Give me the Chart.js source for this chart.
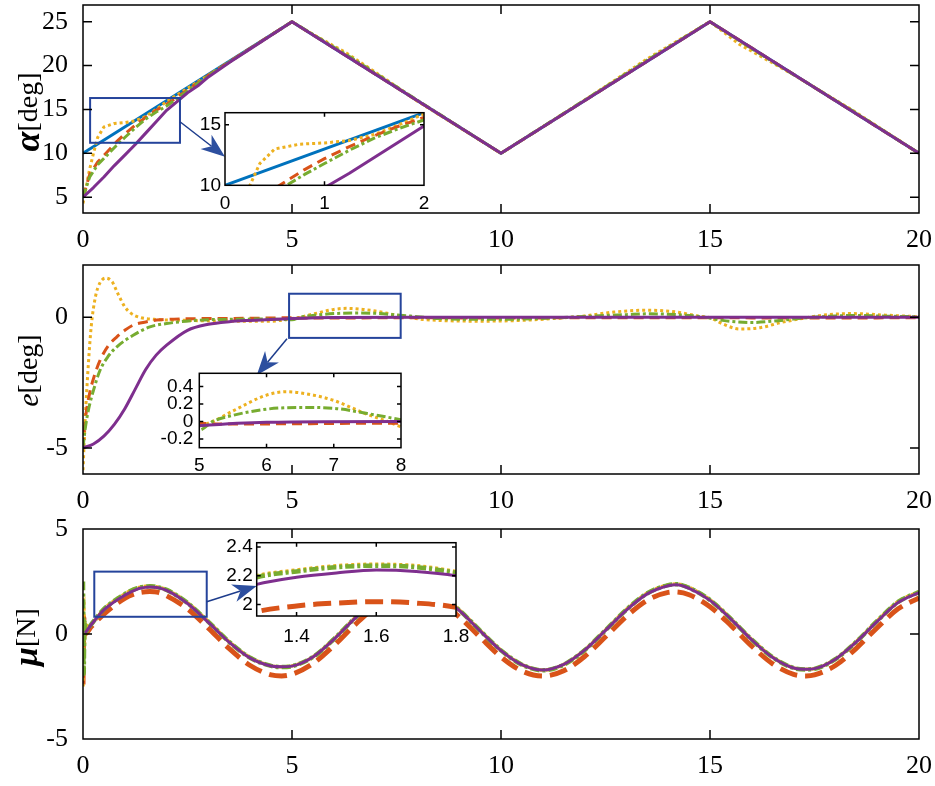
<!DOCTYPE html>
<html>
<head>
<meta charset="utf-8">
<script src="https://cdn.jsdelivr.net/npm/chart.js@4.4.0/dist/chart.umd.min.js"></script>
<style>
body { margin: 0; background: #fff; width: 935px; height: 786px; position: relative; overflow: hidden; }
canvas { position: absolute; }
</style>
</head>
<body>
<canvas id="main1"></canvas>
<canvas id="main2"></canvas>
<canvas id="main3"></canvas>
<canvas id="inset1"></canvas>
<canvas id="inset2"></canvas>
<canvas id="inset3"></canvas>
<script>
// ---- data ----
const timeTicks = [0, 5, 10, 15, 20];
const alphaTicks = [5, 10, 15, 20, 25];
const errTicks = [-5, 0];
const muTicks = [-5, 0, 5];

// alpha [deg]
const tAlphaRef = [0, 5, 10, 15, 20];
const alphaRef = [10, 25, 10, 25, 10];
const tAlphaOrange = [0, 0.05, 0.15, 0.25, 0.35, 0.5, 0.75, 1, 1.25, 1.5, 1.75, 2, 2.5, 3, 5, 5.3, 6.3, 7.2, 8, 10, 12, 13.5, 15, 15.7, 17, 18.4, 20];
const alphaOrange = [4.3, 5.5, 8.0, 10.0, 11.8, 13.0, 13.4, 13.5, 13.7, 14.2, 15.0, 15.9, 17.4, 18.9, 25, 24.1, 21.44, 18.58, 15.94, 10, 16.05, 20.77, 25, 22.43, 18.95, 14.94, 10];
const tAlphaRed = [0, 0.16, 0.35, 0.55, 0.8, 1, 1.25, 1.5, 1.75, 2, 2.5, 3, 5, 10, 15, 20];
const alphaRed = [5, 7.6, 9.0, 10.0, 11.3, 12.2, 13.2, 14.1, 14.9, 15.6, 17.2, 18.9, 25, 10, 25, 10];
const tAlphaGreen = [0, 0.16, 0.35, 0.62, 0.8, 1, 1.25, 1.5, 1.75, 2, 2.5, 3, 5, 6.5, 8, 10, 13.5, 15, 16, 18.4, 20];
const alphaGreen = [5, 7.3, 8.7, 10.0, 10.9, 11.8, 12.9, 13.9, 14.7, 15.4, 17.1, 18.85, 25, 20.66, 16.05, 10, 20.62, 25, 21.9, 14.87, 10];
const tAlphaPurple = [0, 0.25, 0.5, 0.75, 1, 1.25, 1.5, 1.75, 2, 2.25, 2.5, 2.75, 3, 3.5, 4, 5, 10, 15, 20];
const alphaPurple = [5, 6.1, 7.3, 8.6, 9.8, 11.0, 12.3, 13.6, 14.9, 15.9, 16.9, 17.7, 18.7, 20.35, 21.9, 25, 10, 25, 10];

// e [deg]
const tErrOrange = [0, 0.05, 0.12, 0.2, 0.3, 0.4, 0.55, 0.7, 0.85, 1.0, 1.15, 1.35, 1.7, 2.5, 3.5, 4.5, 5, 5.2, 5.5, 6, 6.3, 6.7, 7, 7.5, 7.8, 8, 8.5, 9.5, 10.5, 11.5, 12, 12.7, 13.5, 14.2, 14.7, 15, 15.3, 15.7, 16.2, 16.7, 17.2, 17.7, 18.4, 19.2, 20];
const errOrange = [-5.85, -4.0, -2.0, -0.3, 0.8, 1.3, 1.5, 1.35, 0.85, 0.4, 0.15, 0.0, -0.08, -0.12, -0.15, -0.15, -0.05, 0.0, 0.12, 0.3, 0.34, 0.3, 0.24, 0.08, 0.0, -0.06, -0.12, -0.15, -0.12, -0.02, 0.05, 0.2, 0.27, 0.2, 0.05, -0.02, -0.25, -0.45, -0.4, -0.2, -0.05, 0.08, 0.14, 0.08, 0.02];
const tErrRed = [0, 0.05, 0.16, 0.28, 0.41, 0.6, 0.81, 1.0, 1.2, 1.5, 1.84, 2.5, 4, 5, 5.3, 8, 10, 12, 15, 17, 20];
const errRed = [-5, -4.0, -2.9, -2.2, -1.64, -1.1, -0.75, -0.5, -0.3, -0.18, -0.1, -0.06, -0.04, -0.02, -0.03, -0.02, -0.03, -0.02, -0.02, -0.03, -0.02];
const tErrGreen = [0, 0.05, 0.13, 0.25, 0.41, 0.6, 0.81, 1.2, 1.6, 2.0, 2.8, 3.5, 4.5, 5, 5.2, 5.5, 6, 6.5, 7, 7.5, 8, 8.5, 9.5, 10.5, 11.5, 12, 13, 13.5, 14.2, 14.8, 15.3, 16, 16.7, 17.3, 18, 18.5, 19.2, 20];
const errGreen = [-5, -4.3, -3.55, -2.8, -2.02, -1.5, -1.13, -0.69, -0.37, -0.24, -0.11, -0.08, -0.07, -0.1, 0.0, 0.07, 0.14, 0.16, 0.15, 0.09, 0.02, -0.05, -0.08, -0.07, -0.01, 0.03, 0.1, 0.13, 0.1, 0.02, -0.12, -0.2, -0.12, -0.02, 0.05, 0.07, 0.04, 0.02];
const tErrPurple = [0, 0.25, 0.5, 0.75, 1, 1.25, 1.5, 1.75, 2, 2.5, 3, 3.5, 4, 5, 6, 8, 20];
const errPurple = [-5, -4.85, -4.55, -4.1, -3.5, -2.75, -2.0, -1.45, -1.07, -0.5, -0.27, -0.17, -0.12, -0.05, -0.01, 0, 0];

// mu [N]
const tMuStart = [0, 0.015, 0.035];
const tMu = [0.05, 0.2, 0.5, 1.0, 1.3, 1.4, 1.5, 1.6, 1.7, 1.8, 2.0, 2.5, 3.0, 3.5, 4.0, 4.5, 4.75, 5.0, 5.5, 6.0, 6.5, 7.0, 7.5, 7.9, 8.5, 9.0, 9.5, 10.0, 10.5, 11.0, 11.5, 12.0, 12.5, 13.0, 13.5, 14.0, 14.2, 14.5, 15.0, 15.5, 16.0, 16.5, 17.0, 17.3, 17.5, 18.0, 18.5, 19.0, 19.5, 20.0];
const muPurple = [0.05, 0.45, 1.15, 1.85, 2.14, 2.19, 2.22, 2.24, 2.23, 2.2, 2.08, 1.45, 0.55, -0.4, -1.15, -1.52, -1.56, -1.53, -1.1, -0.26, 0.73, 1.61, 2.18, 2.3, 1.9, 1.12, 0.15, -0.79, -1.46, -1.72, -1.45, -0.77, 0.17, 1.14, 1.91, 2.3, 2.34, 2.17, 1.6, 0.71, -0.28, -1.12, -1.62, -1.68, -1.65, -1.2, -0.38, 0.6, 1.5, 1.97];
const muGreenStart = [2.5, -1.9, 0.6];
const muGreen = [0.1, 0.47, 1.18, 1.9, 2.19, 2.23, 2.26, 2.27, 2.26, 2.22, 2.1, 1.48, 0.58, -0.38, -1.13, -1.52, -1.57, -1.53, -1.1, -0.25, 0.75, 1.64, 2.22, 2.34, 1.93, 1.14, 0.16, -0.78, -1.46, -1.73, -1.46, -0.77, 0.18, 1.16, 1.94, 2.33, 2.37, 2.2, 1.62, 0.72, -0.27, -1.11, -1.62, -1.69, -1.66, -1.2, -0.37, 0.62, 1.53, 2.0];
const muOrangeStart = [-2.5, 1.8, -0.5];
const muOrange = [0.1, 0.48, 1.19, 1.91, 2.2, 2.24, 2.27, 2.28, 2.27, 2.23, 2.11, 1.49, 0.59, -0.37, -1.12, -1.51, -1.56, -1.52, -1.09, -0.24, 0.76, 1.65, 2.23, 2.35, 1.94, 1.15, 0.17, -0.77, -1.45, -1.72, -1.45, -0.76, 0.19, 1.17, 1.95, 2.34, 2.38, 2.21, 1.63, 0.73, -0.26, -1.1, -1.61, -1.68, -1.65, -1.19, -0.36, 0.63, 1.54, 2.01];
const tMuRed = [0, 0.02, 0.04, 0.2, 0.5, 1.0, 1.3, 1.4, 1.5, 1.6, 1.7, 1.8, 2.0, 2.5, 3.0, 3.5, 4.0, 4.5, 4.75, 5.0, 5.5, 6.0, 6.5, 7.0, 7.5, 7.85, 8.5, 9.0, 9.5, 10.0, 10.5, 11.0, 11.5, 12.0, 12.5, 13.0, 13.5, 14.0, 14.15, 14.5, 15.0, 15.5, 16.0, 16.5, 17.0, 17.3, 17.5, 18.0, 18.5, 19.0, 19.5, 20.0];
const muRed = [-2.4, 0.8, 0.0, 0.35, 0.95, 1.7, 1.95, 1.99, 2.01, 2.02, 2.01, 1.98, 1.82, 1.2, 0.28, -0.7, -1.5, -1.95, -2.0, -1.92, -1.41, -0.56, 0.43, 1.31, 1.88, 2.0, 1.6, 0.82, -0.15, -1.09, -1.76, -2.0, -1.75, -1.07, -0.13, 0.84, 1.61, 1.98, 2.0, 1.87, 1.3, 0.41, -0.58, -1.42, -1.92, -2.0, -1.95, -1.5, -0.68, 0.3, 1.2, 1.72];

// inset ticks
const inset1X = [0, 1, 2], inset1Y = [10, 15];
const inset2X = [5, 6, 7, 8], inset2Y = [-0.2, 0, 0.2, 0.4];
const inset3X = [1.4, 1.6, 1.8], inset3Y = [2, 2.2, 2.4];

// ---- styling ----
const COL = { blue: '#0072BD', orange: '#EDB120', red: '#D95319', green: '#77AC30', purple: '#7E2F8E' };
const SERIF = 'Liberation Serif';
const SANS = 'Liberation Sans';
const NAVY = '#25449b';

function pts(ts, vs) { return ts.map((t, i) => ({ x: t, y: vs[i] })); }

function line(data, color, width, dash, smooth) {
  return {
    data, borderColor: color, borderWidth: width, borderDash: dash || [],
    pointRadius: 0, fill: false, tension: 0,
    cubicInterpolationMode: smooth ? 'monotone' : 'default',
    borderCapStyle: 'butt', borderJoinStyle: 'round'
  };
}

// box frame with inward ticks (MATLAB look)
const frame = {
  id: 'frame',
  beforeDraw(chart, args, o) {
    if (!o.white) return;
    const { ctx, chartArea: a } = chart;
    ctx.save(); ctx.fillStyle = '#fff';
    ctx.fillRect(a.left, a.top, a.right - a.left, a.bottom - a.top);
    ctx.restore();
  },
  afterDraw(chart, args, o) {
    const { ctx, chartArea: a, scales: { x, y } } = chart;
    const L = o.len;
    ctx.save();
    ctx.strokeStyle = '#000';
    ctx.lineWidth = o.lw;
    ctx.beginPath();
    x.ticks.forEach(t => {
      const p = x.getPixelForValue(t.value);
      if (p <= a.left + 1 || p >= a.right - 1) return;
      ctx.moveTo(p, a.bottom); ctx.lineTo(p, a.bottom - L);
      ctx.moveTo(p, a.top); ctx.lineTo(p, a.top + L);
    });
    y.ticks.forEach(t => {
      const p = y.getPixelForValue(t.value);
      if (p <= a.top + 1 || p >= a.bottom - 1) return;
      ctx.moveTo(a.left, p); ctx.lineTo(a.left + L, p);
      ctx.moveTo(a.right, p); ctx.lineTo(a.right - L, p);
    });
    ctx.stroke();
    ctx.strokeRect(a.left, a.top, a.right - a.left, a.bottom - a.top);
    ctx.restore();
  }
};

// y label made of mixed-font parts, rotated
const ylab = {
  id: 'ylab',
  afterDraw(chart, args, o) {
    if (!o.parts) return;
    const { ctx, chartArea: a } = chart;
    ctx.save();
    ctx.translate(o.x, (a.top + a.bottom) / 2 + (o.dy || 0));
    ctx.rotate(-Math.PI / 2);
    ctx.fillStyle = '#000';
    ctx.textBaseline = 'middle';
    let w = 0;
    o.parts.forEach(p => { ctx.font = p.font; w += ctx.measureText(p.text).width; });
    let cx = -w / 2;
    o.parts.forEach(p => { ctx.font = p.font; ctx.fillText(p.text, cx, 0); cx += ctx.measureText(p.text).width; });
    ctx.restore();
  }
};

// zoom rectangle + arrow to the inset
const zoomMark = {
  id: 'zoomMark',
  afterDatasetsDraw(chart, args, o) {
    if (!o.box) return;
    const { ctx, scales: { x, y } } = chart;
    const [x0, x1, y0, y1] = o.box;
    const L = x.getPixelForValue(x0), R = x.getPixelForValue(x1);
    const T = y.getPixelForValue(y1), B = y.getPixelForValue(y0);
    ctx.save();
    ctx.strokeStyle = NAVY; ctx.lineWidth = 2;
    ctx.strokeRect(L, T, R - L, B - T);
    const sx = x.getPixelForValue(o.from[0]), sy = y.getPixelForValue(o.from[1]);
    const tx = o.tip[0], ty = o.tip[1];
    const dx = tx - sx, dy = ty - sy, d = Math.hypot(dx, dy);
    const ux = dx / d, uy = dy / d, nx = -uy, ny = ux;
    const hl = 24, hw = 9, notch = 17;
    ctx.strokeStyle = '#1d3c8c'; ctx.lineWidth = 1.5;
    ctx.beginPath(); ctx.moveTo(sx, sy); ctx.lineTo(tx - ux * notch, ty - uy * notch); ctx.stroke();
    ctx.fillStyle = '#2d4f9f';
    ctx.beginPath();
    ctx.moveTo(tx, ty);
    ctx.lineTo(tx - ux * hl + nx * hw, ty - uy * hl + ny * hw);
    ctx.lineTo(tx - ux * notch, ty - uy * notch);
    ctx.lineTo(tx - ux * hl - nx * hw, ty - uy * hl - ny * hw);
    ctx.closePath(); ctx.fill();
    ctx.restore();
  }
};

function makeChart(id, box, area, cfg) {
  const c = document.getElementById(id);
  c.width = box[2]; c.height = box[3];
  c.style.left = box[0] + 'px'; c.style.top = box[1] + 'px';
  c.style.width = box[2] + 'px'; c.style.height = box[3] + 'px';
  const yw = area[0] - box[0];
  const xh = box[1] + box[3] - area[3];
  const font = { family: cfg.family, size: cfg.size };
  return new Chart(c, {
    type: 'line',
    data: { datasets: cfg.datasets },
    plugins: [frame, ylab, zoomMark],
    options: {
      responsive: false, animation: false, events: [],
      layout: { padding: { left: 0, top: area[1] - box[1], right: box[0] + box[2] - area[2], bottom: 0 } },
      plugins: {
        legend: { display: false }, tooltip: { enabled: false },
        frame: { len: cfg.tickLen, lw: cfg.lw, white: cfg.white },
        ylab: cfg.ylab || {},
        zoomMark: cfg.zoom || {}
      },
      scales: {
        x: {
          type: 'linear', min: cfg.xr[0], max: cfg.xr[1],
          grid: { display: false, drawTicks: false }, border: { display: false },
          ticks: { font, color: '#000', padding: cfg.xpad, maxRotation: 0, autoSkip: false, callback: v => String(v) },
          afterBuildTicks: s => { s.ticks = cfg.xt.map(v => ({ value: v })); },
          afterFit: s => { s.height = xh; s.paddingLeft = 0; s.paddingRight = 0; }
        },
        y: {
          type: 'linear', min: cfg.yr[0], max: cfg.yr[1],
          grid: { display: false, drawTicks: false }, border: { display: false },
          ticks: { font, color: '#000', padding: cfg.ypad, autoSkip: false, callback: v => String(v) },
          afterBuildTicks: s => { s.ticks = cfg.yt.map(v => ({ value: v })); },
          afterFit: s => { s.width = yw; s.paddingTop = 0; s.paddingBottom = 0; }
        }
      }
    }
  });
}

// ---- layout (page pixels) ----
const P1 = [0, 0, 935, 262], A1 = [83, 5, 919, 213];
const P2 = [0, 258, 935, 264], A2 = [83, 265, 919, 474];
const P3 = [0, 510, 935, 276], A3 = [83, 529, 919, 739];
const I1 = [185, 106, 255, 112], B1 = [225, 112.7, 424, 185.3];
const I2 = [155, 366, 265, 114], B2 = [199.3, 373.3, 401, 447.7];
const I3 = [210, 536, 270, 118], B3 = [256.7, 542.7, 456, 616];

function alphaSets(w) {
  return [
    line(pts(tAlphaPurple, alphaPurple), COL.purple, w, []),
    line(pts(tAlphaGreen, alphaGreen), COL.green, w, [9, 3, 3, 3]),
    line(pts(tAlphaRed, alphaRed), COL.red, w, [10, 6]),
    line(pts(tAlphaOrange, alphaOrange), COL.orange, w, [3, 3]),
    line(pts(tAlphaRef, alphaRef), COL.blue, w, [])
  ];
}
function errSets(w) {
  return [
    line(pts(tErrPurple, errPurple), COL.purple, w, [], true),
    line(pts(tErrGreen, errGreen), COL.green, w, [9, 3, 3, 3], true),
    line(pts(tErrRed, errRed), COL.red, w, [10, 6], true),
    line(pts(tErrOrange, errOrange), COL.orange, w, [3, 3], true)
  ];
}
function muSets(k) {
  return [
    line(pts(tMu, muPurple), COL.purple, 3 * k, [], true),
    line(pts(tMuStart.concat(tMu), muGreenStart.concat(muGreen)), COL.green, 4.5 * k, [9, 3, 3, 3], true),
    line(pts(tMuStart.concat(tMu), muOrangeStart.concat(muOrange)), COL.orange, 3.5 * k, [3, 3], true),
    line(pts(tMuRed, muRed), COL.red, 5 * k, [18, 8], true)
  ];
}

const mainCommon = { family: SERIF, size: 26, tickLen: 9, lw: 1.5, xpad: 12, ypad: 15, xr: [0, 20], xt: timeTicks };
const insetCommon = { family: SANS, size: 19, tickLen: 4, lw: 1.5, white: true };

makeChart('main1', P1, A1, Object.assign({}, mainCommon, {
  yr: [3.2, 26.9], yt: alphaTicks, datasets: alphaSets(3),
  ylab: { x: 30, dy: 3, parts: [{ text: 'α', font: `bold italic 36px "${SERIF}"` }, { text: '[deg]', font: `28px "${SERIF}"` }] },
  zoom: { box: [0.17, 2.32, 11.2, 16.3], from: [2.32, 13.6], tip: [B1[0] - P1[0], 156.7 - P1[1]] }
}));
makeChart('main2', P2, A2, Object.assign({}, mainCommon, {
  yr: [-6, 2], yt: errTicks, datasets: errSets(3),
  ylab: { x: 30, dy: 1, parts: [{ text: 'e', font: `italic 30px "${SERIF}"` }, { text: '[deg]', font: `28px "${SERIF}"` }] },
  zoom: { box: [4.93, 7.6, -0.79, 0.9], from: [4.88, -0.82], tip: [256.7 - P2[0], B2[1] + 2 - P2[1]] }
}));
makeChart('main3', P3, A3, Object.assign({}, mainCommon, {
  yr: [-5, 5], yt: muTicks, datasets: muSets(1),
  ylab: { x: 28, dy: 3, parts: [{ text: 'μ', font: `bold italic 34px "${SERIF}"` }, { text: '[N]', font: `28px "${SERIF}"` }] },
  zoom: { box: [0.27, 2.96, 0.82, 2.97], from: [2.96, 1.54], tip: [B3[0] - P3[0], 586 - P3[1]] }
}));

makeChart('inset1', I1, B1, Object.assign({}, insetCommon, {
  xr: [0, 2], xt: inset1X, yr: [10, 16], yt: inset1Y, xpad: 7, ypad: 4, datasets: alphaSets(3)
}));
makeChart('inset2', I2, B2, Object.assign({}, insetCommon, {
  xr: [5, 8], xt: inset2X, yr: [-0.3, 0.55], yt: inset2Y, xpad: 7, ypad: 6, datasets: errSets(3)
}));
makeChart('inset3', I3, B3, Object.assign({}, insetCommon, {
  xr: [1.3, 1.8], xt: inset3X, yr: [1.92, 2.43], yt: inset3Y, xpad: 9, ypad: 4, datasets: muSets(1)
}));
</script>
</body>
</html>
